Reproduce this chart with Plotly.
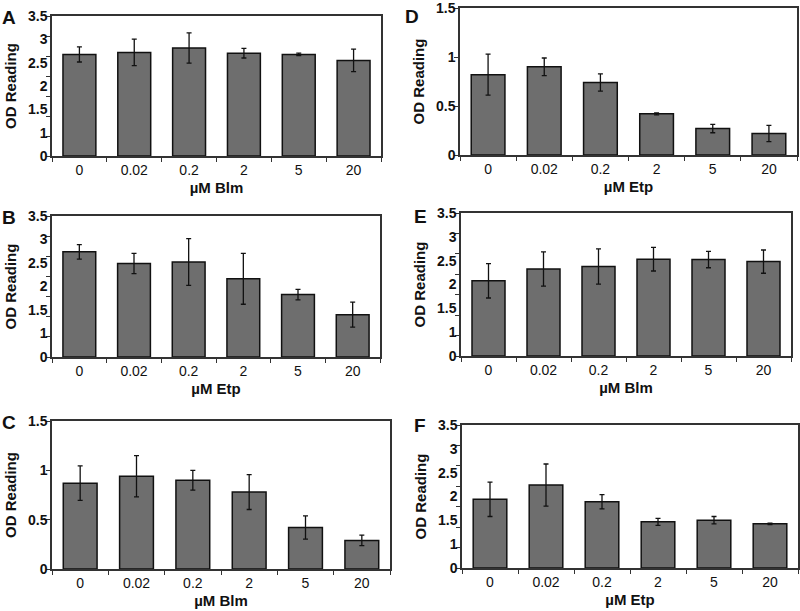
import plotly.graph_objects as go

W, H = 800, 611

categories = ["0", "0.02", "0.2", "2", "5", "20"]

# Values read against the tick marks of each panel (axis units)
a_vals = [2.54, 2.59, 2.70, 2.57, 2.54, 2.39]
a_err = [0.19, 0.33, 0.38, 0.12, 0.03, 0.28]
b_vals = [2.61, 2.32, 2.36, 1.94, 1.55, 1.05]
b_err = [0.18, 0.25, 0.58, 0.63, 0.13, 0.31]
c_vals = [0.87, 0.94, 0.90, 0.78, 0.42, 0.29]
c_err = [0.175, 0.21, 0.10, 0.177, 0.118, 0.054]
d_vals = [0.82, 0.90, 0.74, 0.42, 0.27, 0.22]
d_err = [0.21, 0.09, 0.088, 0.01, 0.043, 0.083]
e_vals = [1.84, 2.13, 2.19, 2.37, 2.36, 2.31]
e_err = [0.42, 0.42, 0.43, 0.29, 0.20, 0.285]
f_vals = [1.68, 2.03, 1.62, 1.13, 1.17, 1.08]
f_err = [0.42, 0.515, 0.175, 0.085, 0.09, 0.02]

# tick labels for the two kinds of y axis
tall_ticktext = ["0", "1", "1.5", "2", "2.5", "3", "3.5"]
short_ticktext = ["0", "0.5", "1", "1.5"]

panels = [
    # letter, values, errors, x title, kind, pixel box (x0, x1, ytop, ybottom), letter centre (px)
    ("A", a_vals, a_err, "µM Blm", "tall", (52, 381, 16, 156), (9, 17)),
    ("B", b_vals, b_err, "µM Etp", "tall", (52, 380, 216, 357), (9, 217)),
    ("C", c_vals, c_err, "µM Blm", "short", (52, 390, 421, 569), (9, 422)),
    ("D", d_vals, d_err, "µM Etp", "short", (460, 797, 8, 155), (412, 16)),
    ("E", e_vals, e_err, "µM Blm", "tall", (461, 791, 213, 356), (420, 216)),
    ("F", f_vals, f_err, "µM Etp", "tall", (462, 798, 425, 568), (420, 425)),
]

FONT = "Liberation Sans, Arial, sans-serif"
fig = go.Figure()
annotations = []
layout = {}

for i, (letter, vals, errs, xtitle, kind, box, lpos) in enumerate(panels):
    n = i + 1
    xa = "x" if n == 1 else f"x{n}"
    ya = "y" if n == 1 else f"y{n}"
    xkey = "xaxis" if n == 1 else f"xaxis{n}"
    ykey = "yaxis" if n == 1 else f"yaxis{n}"
    x0, x1, yt, yb = box
    fig.add_trace(go.Bar(
        x=categories, y=vals, xaxis=xa, yaxis=ya,
        marker=dict(color="#6e6e6e", line=dict(color="#111111", width=1.5)),
        error_y=dict(type="data", array=errs, visible=True, color="#111111",
                     thickness=1.3, width=2.5),
        showlegend=False, hoverinfo="x+y",
    ))
    layout[xkey] = dict(
        domain=[x0 / W, x1 / W], anchor=ya, type="category", automargin=False,
        showline=True, linecolor="#333333", linewidth=1.5, mirror=True,
        ticks="outside", ticklen=4, tickcolor="#333333", tickson="boundaries",
        tickfont=dict(family=FONT, size=14, color="#111111"),
        title=dict(text="<b>" + xtitle + "</b>", standoff=6,
                   font=dict(family=FONT, size=15, color="#111111")),
        showgrid=False, fixedrange=True,
    )
    if kind == "tall":
        top = 3.5
        tickvals = [top * k / 6 for k in range(7)]
        ticktext = ["<b>" + t + "</b>" for t in tall_ticktext]
        minor_vals = [0.5 * k for k in range(8)]
    else:
        top = 1.5
        tickvals = [0, 0.5, 1.0, 1.5]
        ticktext = ["<b>" + t + "</b>" for t in short_ticktext]
        minor_vals = tickvals
    layout[ykey] = dict(
        domain=[1 - yb / H, 1 - yt / H], anchor=xa, range=[0, top], automargin=False,
        showline=True, linecolor="#333333", linewidth=1.5, mirror=True,
        tickmode="array", tickvals=tickvals, ticktext=ticktext,
        ticks="", ticklen=0, ticklabeloverflow="allow",
        minor=dict(tickmode="array", tickvals=minor_vals, ticks="outside",
                   ticklen=4, tickcolor="#333333", showgrid=False),
        tickfont=dict(family=FONT, size=14, color="#111111"),
        title=dict(text="<b>OD Reading</b>", standoff=8,
                   font=dict(family=FONT, size=15, color="#111111")),
        showgrid=False, zeroline=False, fixedrange=True,
    )
    annotations.append(dict(
        text="<b>" + letter + "</b>", xref="paper", yref="paper",
        x=lpos[0] / W, y=1 - lpos[1] / H, xanchor="center", yanchor="middle",
        showarrow=False, font=dict(family=FONT, size=19, color="#111111"),
    ))

fig.update_layout(
    width=W, height=H, margin=dict(l=0, r=0, t=0, b=0),
    paper_bgcolor="white", plot_bgcolor="white",
    bargap=0.4, annotations=annotations, **layout,
)
fig.write_html("out.html", config={"displayModeBar": False},
               post_script="document.body.style.margin='0';document.body.style.overflow='hidden';")
